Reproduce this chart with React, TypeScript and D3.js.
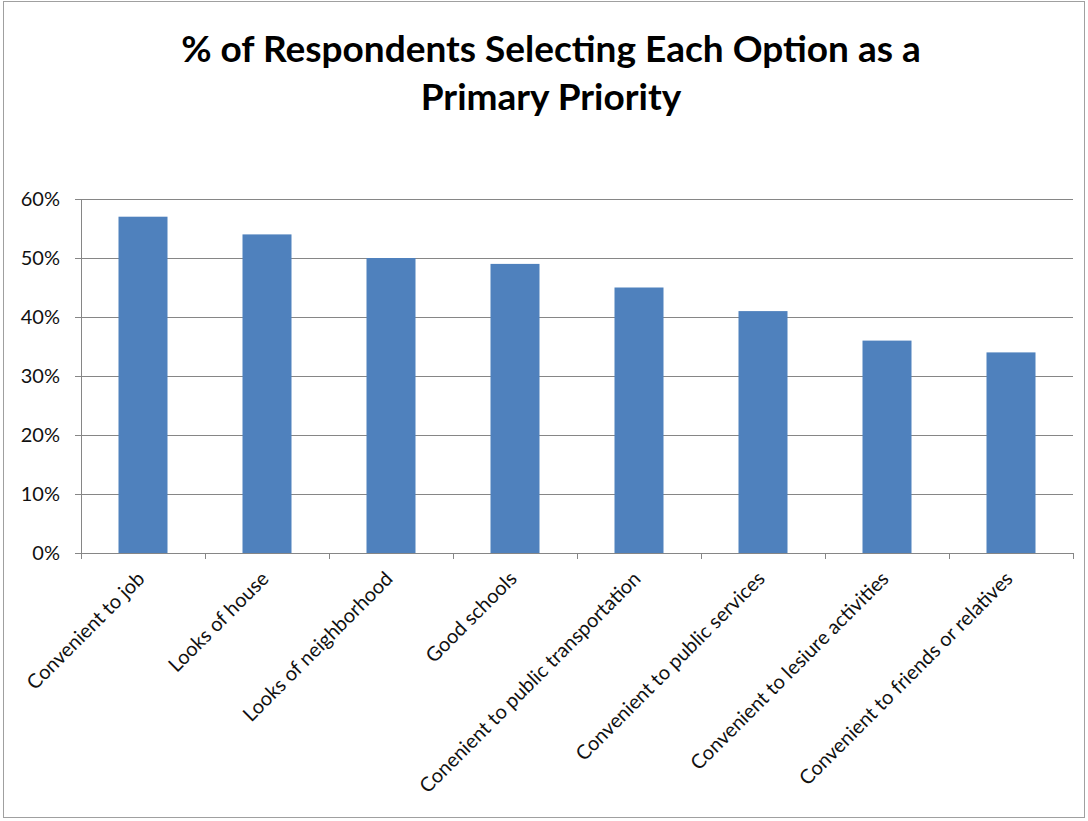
import React from "react";
import * as d3 from "d3";

const categories = [
  "Convenient to job",
  "Looks of house",
  "Looks of neighborhood",
  "Good schools",
  "Conenient to public transportation",
  "Convenient to public services",
  "Convenient to lesiure activities",
  "Convenient to friends or relatives",
];
const values = [57, 54, 50, 49, 45, 41, 36, 34];
const yTicks = [0, 10, 20, 30, 40, 50, 60];
const titleLines = ["% of Respondents Selecting Each Option as a", "Primary Priority"];

export default function App() {
  const W = 1088, H = 821;
  const left = 81, right = 1073, top = 199, bottom = 553;
  const band = d3.scaleBand<string>().domain(categories).range([left, right]);
  const y = d3.scaleLinear().domain([0, 60]).range([bottom, top]);
  const barW = 49;
  const font = "Lato, 'Open Sans', sans-serif";
  return (
    <svg width={W} height={H} style={{ position: "absolute", left: 0, top: 0 }} fontFamily={font}>
      <rect x={0} y={0} width={W} height={H} fill="#fff" />
      <rect x={3.5} y={1.5} width={1081} height={816} fill="none" stroke="#a0a0a0" strokeWidth={1} />
      {titleLines.map((t, i) => (
        <text key={i} x={551} y={62 + i * 48} textAnchor="middle" fontSize={37} fontWeight="bold" fill="#000">{t}</text>
      ))}
      {yTicks.map((t) => (
        <g key={t}>
          <line x1={left - 6} x2={right} y1={Math.round(y(t)) + 0.5} y2={Math.round(y(t)) + 0.5} stroke="#868686" strokeWidth={1} />
          <text x={60} y={y(t) + 7} textAnchor="end" fontSize={20} fill="#111">{t}%</text>
        </g>
      ))}
      <line x1={left + 0.5} x2={left + 0.5} y1={top} y2={bottom} stroke="#868686" />
      {categories.map((c, i) => (
        <rect key={c} x={band(c)! + (band.bandwidth() - barW) / 2} y={y(values[i])} width={barW} height={bottom - y(values[i])} fill="#4f81bd" />
      ))}
      {categories.map((c) => (
        <line key={"t" + c} x1={band(c)! + band.bandwidth() + 0.5} x2={band(c)! + band.bandwidth() + 0.5} y1={bottom} y2={bottom + 6} stroke="#868686" />
      ))}
      <line x1={left + 0.5} x2={left + 0.5} y1={bottom} y2={bottom + 6} stroke="#868686" />
      {categories.map((c) => {
        const cx = band(c)! + band.bandwidth() / 2 + 3;
        const cy = bottom + 27;
        return (
          <text key={"l" + c} transform={`translate(${cx},${cy}) rotate(-45)`} textAnchor="end" fontSize={20} fill="#111">{c}</text>
        );
      })}
    </svg>
  );
}
